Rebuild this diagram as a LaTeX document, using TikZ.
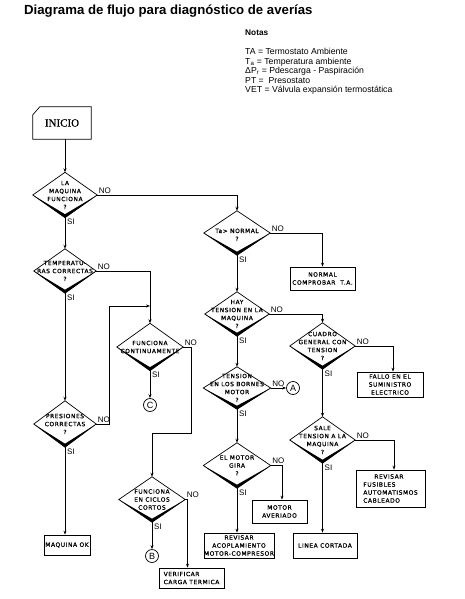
\documentclass[tikz,border=0pt]{standalone}
\usepackage{fontspec}
\setmainfont{Liberation Sans}
\newfontfamily\diafont[LetterSpace=10,FakeBold=1]{DejaVu Sans}
\newfontfamily\inifont[FakeBold=0.6]{Liberation Serif}
\usetikzlibrary{arrows.meta}
\tikzset{
  conn/.style={line width=0.7pt},
  arr/.style={conn,-{Stealth[length=4pt,width=3pt]}},
  dia/.style={rectangle,draw=none,inner sep=0pt,align=center,font=\diafont\fontsize{5.9}{8}\selectfont},
  box/.style={rectangle,draw,line width=0.7pt,inner sep=0pt,align=center,font=\diafont\fontsize{5.9}{8}\selectfont},
  circ/.style={circle,draw,line width=0.7pt,minimum size=13pt,inner sep=0pt,font=\fontsize{9}{9}\selectfont},
  lbl/.style={inner sep=0pt,font=\fontsize{8}{8}\selectfont},
  nol/.style={lbl,anchor=base west},
  sil/.style={lbl,anchor=north west},
  note/.style={anchor=base west,inner sep=0pt,font=\fontsize{8.7}{9.5}\selectfont},
}
\begin{document}
\begin{tikzpicture}[x=1pt,y=-1pt]
\useasboundingbox (0,0) rectangle (464,599);
\fill[white] (0,0) rectangle (464,599);

% title and notes
\node[anchor=base west,inner sep=0pt,font=\bfseries\fontsize{13.2}{15}\selectfont] (title) at (24,15) {Diagrama de flujo para diagnóstico de averías};
\node[note,font=\bfseries\fontsize{8.3}{9.5}\selectfont] (notas) at (245,35.5) {Notas};
\node[note] (n1) at (245,55) {TA = Termostato Ambiente};
\node[note] (n2) at (245,64.5) {T\textsubscript{a} = Temperatura ambiente};
\node[note] (n3) at (245,74) {ΔP\textsubscript{r} = Pdescarga - Paspiración};
\node[note] (n4) at (245,83.5) {PT = \ Presostato};
\node[note] (n5) at (245,93) {VET = Válvula expansión termostática};

% start
\node[rectangle,draw=none,minimum width=58pt,minimum height=32pt,font=\inifont\fontsize{11}{11}\selectfont] (inicio) at (62,123) {INICIO};
\draw[conn] ([yshift=-8pt]inicio.north west) -- ([xshift=7pt]inicio.north west) -- (inicio.north east) -- (inicio.south east) -- (inicio.south west) -- cycle;

% diamonds
\node[dia,minimum width=64pt,minimum height=45pt] (d1) at (65,195) {LA\\MAQUINA\\FUNCIONA\\?};
\node[dia,minimum width=62pt,minimum height=44pt] (d2) at (65,271) {TEMPERATU-\\RAS CORRECTAS\\?};
\node[dia,minimum width=62pt,minimum height=46pt] (d3) at (65,424) {PRESIONES\\CORRECTAS\\?};
\node[dia,minimum width=66pt,minimum height=47pt] (d4) at (150,347) {FUNCIONA\\CONTINUAMENTE};
\node[dia,minimum width=66pt,minimum height=45pt] (d5) at (152,499.5) {FUNCIONA\\EN CICLOS\\CORTOS};
\node[dia,minimum width=66pt,minimum height=44pt] (d6) at (237,233) {~\\Ta> NORMAL\\?};
\node[dia,minimum width=64pt,minimum height=44pt] (d7) at (237,314) {HAY\\TENSION EN LA\\MAQUINA\\?};
\node[dia,minimum width=67pt,minimum height=42pt] (d8) at (237,388) {TENSION\\EN LOS BORNES\\MOTOR\\?};
\node[dia,minimum width=67pt,minimum height=45pt] (d9) at (237,465.5) {EL MOTOR\\GIRA\\?};
\node[dia,minimum width=65pt,minimum height=46pt] (d10) at (322.5,346) {CUADRO\\GENERAL CON\\TENSION\\?};
\node[dia,minimum width=65pt,minimum height=46pt] (d11) at (322.5,440) {SALE\\TENSION A LA\\MAQUINA\\?};
\foreach \d in {d1,d2,d3,d4,d5,d6,d7,d8,d9,d10,d11}{
  \draw[conn,line join=miter] (\d.west) -- (\d.north) -- (\d.east) -- (\d.south) -- cycle;
  \fill (\d.west) -- (\d.south) -- (\d.east) -- ([yshift=3.5pt]\d.south) -- cycle;
}

% boxes
\node[box,minimum width=46pt,minimum height=20pt] (mok) at (67,545) {MAQUINA OK};
\node[box,minimum width=65pt,minimum height=20pt,align=left] (vcb) at (191.5,578) {VERIFICAR\\CARGA TERMICA};
\node[box,minimum width=65pt,minimum height=23pt] (ncb) at (322.5,278.5) {NORMAL\\COMPROBAR \ T.A.};
\node[box,minimum width=66pt,minimum height=25pt] (fallo) at (390,384.5) {FALLO EN EL\\SUMINISTRO\\ELECTRICO};
\node[box,minimum width=69pt,minimum height=37pt,align=left] (rfus) at (390.5,488.5) {\hspace*{11pt}REVISAR\\FUSIBLES\\AUTOMATISMOS\\CABLEADO};
\node[box,minimum width=64pt,minimum height=25pt] (linea) at (325,545.5) {LINEA CORTADA};
\node[box,minimum width=55pt,minimum height=23pt] (mav) at (279.5,511.5) {MOTOR\\AVERIADO};
\node[box,minimum width=66pt,minimum height=25pt] (racop) at (239,545.5) {REVISAR\\ACOPLAMIENTO\\MOTOR-COMPRESOR};

% connectors (circles)
\node[circ] (cC) at (150,405) {C};
\node[circ] (cB) at (152,556) {B};
\node[circ] (cA) at (293,388) {A};

\coordinate (j1) at (150,306);
\coordinate (j2) at (191,433);

\draw[arr] (inicio.south -| d1.north) -- (d1.north);
\draw[arr] (d1.east) -| (d6.north);
\draw[arr] (d1.south) -- (d2.north);
\draw[arr] (d2.east) -| (d4.north);
\draw[arr] (d2.south) -- (d3.north);
\draw[arr] (d3.east) -- ++(13,0) |- (j1);
\draw[arr] (d3.south) -- (d3.south |- mok.north);
\draw[arr] (d4.south) -- (cC.north);
\draw[arr] (d4.east) -| (j2) -| (d5.north);
\draw[arr] (d5.south) -- (cB.north);
\draw[arr] (d5.east) -| ([xshift=-4pt]vcb.north);
\draw[arr] (d6.east) -| (ncb.north);
\draw[arr] (d6.south) -- (d7.north);
\draw[arr] (d7.east) -| (d10.north);
\draw[arr] (d7.south) -- (d8.north);
\draw[arr] (d10.east) -| ([xshift=3pt]fallo.north);
\draw[arr] (d10.south) -- (d11.north);
\draw[arr] (d11.east) -| ([xshift=3.5pt]rfus.north);
\draw[arr] (d11.south) -- (d11.south |- linea.north);
\draw[arr] (d8.east) -- (cA.west);
\draw[arr] (d8.south) -- (d9.north);
\draw[arr] (d9.east) -| ([xshift=2.5pt]mav.north);
\draw[arr] (d9.south) -- (d9.south |- racop.north);

% yes / no labels
\foreach \d in {d1,d2,d3,d4,d5,d6,d7,d8,d9,d10,d11}{
  \node[nol] (no-\d) at ([xshift=1.5pt,yshift=2pt]\d.east) {NO};
  \node[sil] (si-\d) at ([xshift=2pt,yshift=-1.5pt]\d.south) {SI};
}
\end{tikzpicture}
\end{document}
